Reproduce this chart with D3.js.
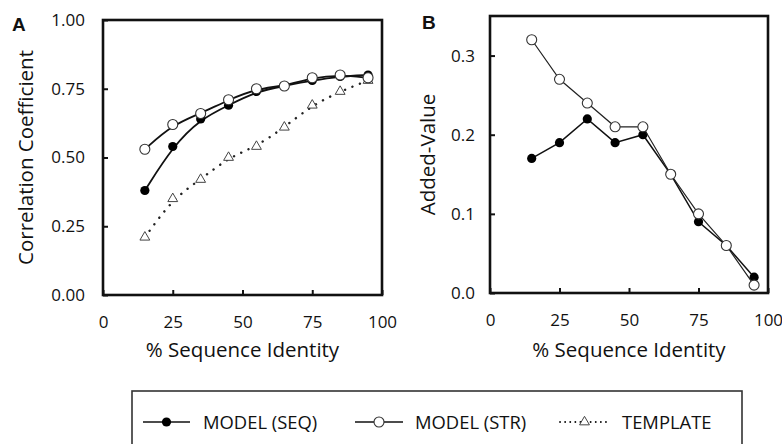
<!DOCTYPE html>
<html>
<head>
<meta charset="utf-8">
<script src="https://cdn.jsdelivr.net/npm/d3@7"></script>
<style>
  body { margin: 0; background: #fff; }
  svg { display: block; font-family: "Open Sans", sans-serif; }
  .axis text { font-family: "Open Sans", sans-serif; font-size: 17px; fill: #111; }
  .axis line { stroke: #111; stroke-width: 2; }
  .axis .domain { display: none; }
</style>
</head>
<body>
<div id="chart"></div>
<script>
// % sequence identity bins shared by both panels
const X_VALUES = [15, 25, 35, 45, 55, 65, 75, 85, 95];

// Panel A — correlation coefficient
const CORR_SEQ      = [0.38, 0.54, 0.64, 0.69, 0.74, 0.76, 0.78, 0.795, 0.80];
const CORR_STR      = [0.53, 0.62, 0.66, 0.71, 0.75, 0.76, 0.79, 0.80, 0.79];
const CORR_TEMPLATE = [0.21, 0.35, 0.42, 0.50, 0.54, 0.61, 0.69, 0.74, 0.78];

// Panel B — added value over template
const ADDED_SEQ = [0.17, 0.19, 0.22, 0.19, 0.20, 0.15, 0.09, 0.06, 0.02];
const ADDED_STR = [0.32, 0.27, 0.24, 0.21, 0.21, 0.15, 0.10, 0.06, 0.01];

const X_TICKS     = [0, 25, 50, 75, 100];
const CORR_TICKS  = [0, 0.25, 0.5, 0.75, 1];
const ADDED_TICKS = [0, 0.1, 0.2, 0.3];

const LEGEND_LABELS = ["MODEL (SEQ)", "MODEL (STR)", "TEMPLATE"];

(function () {
  const W = 782, H = 444;
  const svg = d3.select("#chart").append("svg")
    .attr("width", W).attr("height", H).attr("viewBox", `0 0 ${W} ${H}`);

  const zip = ys => X_VALUES.map((x, i) => ({ x, y: ys[i] }));

  function panel(opts) {
    const x = d3.scaleLinear().domain([0, 100]).range(opts.xr);
    const y = d3.scaleLinear().domain(opts.yd).range(opts.yr);

    // y axis, ticks pointing inward
    svg.append("g").attr("class", "axis")
      .attr("transform", `translate(${opts.xr[0]},0)`)
      .call(d3.axisLeft(y).tickValues(opts.yTicks).tickSize(-5)
        .tickPadding(opts.yPad).tickFormat(d3.format(opts.yFmt)));

    svg.append("g").attr("class", "axis")
      .attr("transform", `translate(0,${opts.yr[0]})`)
      .call(d3.axisBottom(x).tickValues(X_TICKS).tickSize(-5).tickPadding(21));

    // axis titles
    svg.append("text")
      .attr("x", (opts.xr[0] + opts.xr[1]) / 2).attr("y", 357)
      .attr("text-anchor", "middle").attr("font-size", "20.5px").attr("fill", "#111")
      .text("% Sequence Identity");
    svg.append("text")
      .attr("transform", `translate(${opts.titleX},${(opts.yr[0] + opts.yr[1]) / 2}) rotate(-90)`)
      .attr("text-anchor", "middle").attr("font-size", "20.5px").attr("fill", "#111")
      .text(opts.yTitle);

    // panel letter
    svg.append("text")
      .attr("x", opts.letterX).attr("y", opts.letterY)
      .attr("font-family", "Liberation Sans, Arial, sans-serif")
      .attr("font-weight", "bold").attr("font-size", "19px").attr("fill", "#111")
      .text(opts.letter);

    return { x, y };
  }

  function frame(p) {
    const [x0, x1] = p.x.range(), [y0, y1] = p.y.range();
    svg.append("rect")
      .attr("x", x0).attr("y", y1).attr("width", x1 - x0).attr("height", y0 - y1)
      .attr("fill", "none").attr("stroke", "#111").attr("stroke-width", 2.6);
  }

  function series(p, data, o) {
    const line = d3.line().x(d => p.x(d.x)).y(d => p.y(d.y)).curve(o.curve || d3.curveLinear);
    svg.append("path").datum(data)
      .attr("fill", "none").attr("stroke", o.stroke || "#111")
      .attr("stroke-width", o.width || 1.6)
      .attr("stroke-dasharray", o.dash || null)
      .attr("stroke-linecap", o.dash ? "round" : "butt")
      .attr("d", line);
    drawMarkers(svg, data.map(d => [p.x(d.x), p.y(d.y)]), o.marker);
  }

  function drawMarkers(sel, pts, kind) {
    if (kind === "filled") {
      sel.selectAll(null).data(pts).join("circle")
        .attr("cx", d => d[0]).attr("cy", d => d[1]).attr("r", 4.6).attr("fill", "#000");
    } else if (kind === "open") {
      sel.selectAll(null).data(pts).join("circle")
        .attr("cx", d => d[0]).attr("cy", d => d[1]).attr("r", 5)
        .attr("fill", "#fff").attr("stroke", "#333").attr("stroke-width", 1.1);
    } else if (kind === "triangle") {
      const tri = d3.symbol().type(d3.symbolTriangle).size(42);
      sel.selectAll(null).data(pts).join("path")
        .attr("transform", d => `translate(${d[0]},${d[1]})`)
        .attr("d", tri).attr("fill", "#fff").attr("stroke", "#444").attr("stroke-width", 1);
    }
  }

  // Panel A
  const A = panel({
    xr: [103, 382], yr: [295, 20], yd: [0, 1], yTicks: CORR_TICKS, yFmt: ".2f", yPad: 18,
    yTitle: "Correlation Coefficient", titleX: 33, letter: "A", letterX: 12, letterY: 31
  });
  frame(A);
  series(A, zip(CORR_TEMPLATE), { curve: d3.curveBasis, dash: "0.1,8", width: 2.4, stroke: "#222", marker: "triangle" });
  series(A, zip(CORR_SEQ), { curve: d3.curveBasis, width: 1.8, marker: "filled" });
  series(A, zip(CORR_STR), { curve: d3.curveBasis, width: 1.8, marker: "open" });

  // Panel B
  const B = panel({
    xr: [490, 768], yr: [293, 16], yd: [0, 0.35], yTicks: ADDED_TICKS, yFmt: ".1f", yPad: 15,
    yTitle: "Added-Value", titleX: 435, letter: "B", letterX: 422, letterY: 29
  });
  frame(B);
  series(B, zip(ADDED_SEQ), { width: 1.5, marker: "filled" });
  series(B, zip(ADDED_STR), { width: 1.2, stroke: "#222", marker: "open" });

  // Legend box (bottom edge runs off the picture)
  svg.append("rect")
    .attr("x", 132).attr("y", 391).attr("width", 610).attr("height", 70)
    .attr("fill", "none").attr("stroke", "#333").attr("stroke-width", 1.6);

  const legendY = 422;
  const items = [
    { x0: 143, x1: 190, tx: 203, marker: "filled", dash: null },
    { x0: 355, x1: 403, tx: 415, marker: "open", dash: null },
    { x0: 560, x1: 609, tx: 622, marker: "triangle", dash: "0.1,5" }
  ];
  items.forEach((it, i) => {
    svg.append("line")
      .attr("x1", it.x0).attr("x2", it.x1).attr("y1", legendY).attr("y2", legendY)
      .attr("stroke", "#111").attr("stroke-width", it.dash ? 1.8 : 1.6)
      .attr("stroke-dasharray", it.dash).attr("stroke-linecap", it.dash ? "round" : "butt");
    drawMarkers(svg, [[(it.x0 + it.x1) / 2, legendY]], it.marker);
    svg.append("text")
      .attr("x", it.tx).attr("y", legendY).attr("dy", "0.36em")
      .attr("font-size", "18.4px").attr("fill", "#111")
      .text(LEGEND_LABELS[i]);
  });
})();
</script>
</body>
</html>
